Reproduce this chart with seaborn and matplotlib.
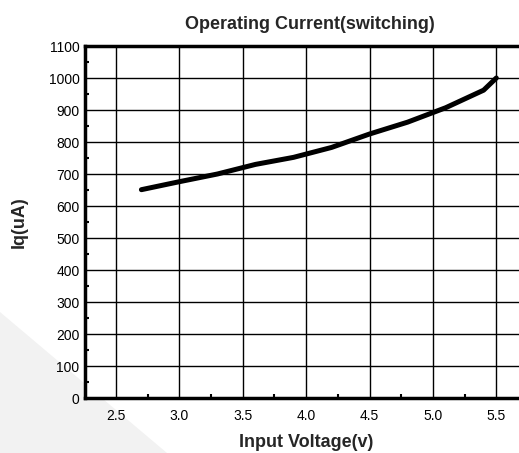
import matplotlib
matplotlib.use("Agg")
import matplotlib.pyplot as plt
from matplotlib.patches import Polygon
from matplotlib.ticker import MultipleLocator
import seaborn as sns
import pandas as pd

voltage = [2.7, 3.0, 3.3, 3.6, 3.9, 4.2, 4.5, 4.8, 5.1, 5.4, 5.5]
current = [651, 676, 700, 730, 752, 783, 825, 862, 907, 962, 1000]
x_ticks = [2.5, 3.0, 3.5, 4.0, 4.5, 5.0, 5.5]
y_ticks = [0, 100, 200, 300, 400, 500, 600, 700, 800, 900, 1000, 1100]

title = "Operating Current(switching)"
xlabel = "Input Voltage(v)"
ylabel = "Iq(uA)"

sns.set_theme(style="white")
plt.rcParams['font.family'] = ['Liberation Sans', 'DejaVu Sans']

df = pd.DataFrame({"v": voltage, "i": current})

fig = plt.figure(figsize=(5.19, 4.53), dpi=100)
fig.patch.set_facecolor("white")
# watermark triangle
tri = Polygon([[0, 1 - 312 / 453], [0, 0], [167 / 519, 0]], closed=True,
              transform=fig.transFigure, facecolor="#f2f2f2", edgecolor="none", zorder=-5)
fig.patches.append(tri)

ax = fig.add_axes([85 / 519, 55 / 453, 443 / 519, 352 / 453])
ax.set_facecolor("white")
sns.lineplot(data=df, x="v", y="i", ax=ax, color="black", linewidth=3.6, zorder=5)

ax.set_xlim(2.255, 5.75)
ax.set_ylim(0, 1100)
ax.set_xticks(x_ticks)
ax.set_xticklabels([f"{t:.1f}" for t in x_ticks])
ax.set_yticks(y_ticks)
ax.set_yticklabels([str(t) for t in y_ticks])
ax.xaxis.set_minor_locator(MultipleLocator(0.25))
ax.yaxis.set_minor_locator(MultipleLocator(50))

ax.grid(True, which="major", color="black", linewidth=1.0)
ax.tick_params(which="major", length=0, labelsize=10, colors="black", pad=8)
ax.tick_params(axis="y", which="major", pad=4)
ax.tick_params(which="minor", direction="in", length=3, width=1.5, color="black",
               bottom=True, left=True)

for side in ["left", "bottom", "top"]:
    ax.spines[side].set_visible(True)
    ax.spines[side].set_color("black")
    ax.spines[side].set_linewidth(2.5)
ax.spines["right"].set_visible(False)

ax.set_title(title, fontsize=13, fontweight="bold", pad=12, x=(309.5 - 85) / 443)
ax.set_xlabel(xlabel, fontsize=13, fontweight="bold", labelpad=8)
ax.set_ylabel(ylabel, fontsize=13, fontweight="bold", labelpad=15)

fig.savefig("out.png", dpi=100)
